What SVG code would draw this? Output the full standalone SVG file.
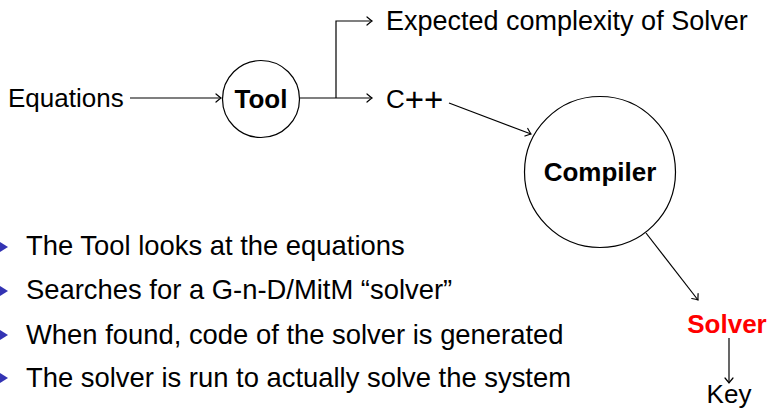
<svg xmlns="http://www.w3.org/2000/svg" width="769" height="410" viewBox="0 0 769 410">
<defs>
<style>
text{font-family:"Liberation Sans",Arial,sans-serif;font-size:26px;fill:#000}
.b{font-weight:bold}
.c{text-anchor:middle}
.l{font-size:27.4px}
.node{fill:#fff;stroke:#000;stroke-width:1.2}
.edge{fill:none;stroke:#000;stroke-width:1.2}
.bul{fill:#3333b3}
</style>
<marker id="arr" viewBox="-6 -5 8 10" markerWidth="8" markerHeight="10" refX="0" refY="0" orient="auto" markerUnits="userSpaceOnUse">
<path d="M-5,-4 Q-1.5,-1 0,0 Q-1.5,1 -5,4" fill="none" stroke="#000" stroke-width="1.2" stroke-linecap="round"/>
</marker>
</defs>
<rect width="769" height="410" fill="#fff"/>
<g id="connectors">
<line class="edge" x1="130" y1="98" x2="221" y2="98" marker-end="url(#arr)"/>
<line class="edge" x1="300" y1="98" x2="372" y2="98" marker-end="url(#arr)"/>
<polyline class="edge" points="336,98 336,21 372,21" marker-end="url(#arr)"/>
<line class="edge" x1="449" y1="103" x2="531" y2="134" marker-end="url(#arr)"/>
<line class="edge" x1="646" y1="233" x2="698" y2="300" marker-end="url(#arr)"/>
<line class="edge" x1="729" y1="338" x2="729" y2="383" marker-end="url(#arr)"/>
</g>
<g id="equations"><text x="8" y="107">Equations</text></g>
<g id="tool"><circle class="node" cx="261" cy="99" r="38.5"/><text class="b c" x="261" y="108">Tool</text></g>
<g id="complexity"><text x="386" y="30" style="font-size:27px">Expected complexity of Solver</text></g>
<g id="cpp"><text x="386" y="108">C<tspan dy="3" style="font-size:33px">++</tspan></text></g>
<g id="compiler"><circle class="node" cx="600" cy="172" r="75.5"/><text class="b c" x="600" y="181">Compiler</text></g>
<g id="solver"><text class="b c" x="727" y="333" style="fill:#ff0000">Solver</text></g>
<g id="key"><text class="c" x="729" y="403">Key</text></g>
<g id="bullets">
<polygon class="bul" points="0,242 8,247 0,252"/>
<text class="l" x="26" y="255">The Tool looks at the equations</text>
<polygon class="bul" points="0,286 8,291 0,296"/>
<text class="l" x="26" y="299">Searches for a G-n-D/MitM “solver”</text>
<polygon class="bul" points="0,330 8,335 0,340"/>
<text class="l" x="26" y="344">When found, code of the solver is generated</text>
<polygon class="bul" points="0,373 8,378 0,383"/>
<text class="l" x="26" y="387">The solver is run to actually solve the system</text>
</g>
</svg>
